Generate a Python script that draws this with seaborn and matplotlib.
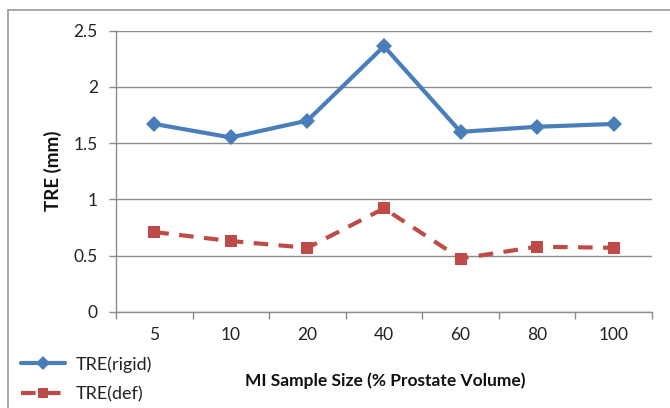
import matplotlib
matplotlib.use("Agg")
import matplotlib.pyplot as plt
import seaborn as sns
import pandas as pd
import numpy as np

categories = ["5", "10", "20", "40", "60", "80", "100"]
tre_rigid = [1.67, 1.55, 1.70, 2.36, 1.60, 1.645, 1.67]
tre_def = [0.71, 0.63, 0.57, 0.92, 0.475, 0.58, 0.57]
y_ticks = [0, 0.5, 1, 1.5, 2, 2.5]

sns.set_theme(style="white")
plt.rcParams['font.family'] = ['Lato', 'DejaVu Sans']

W, H = 670, 408
fig = plt.figure(figsize=(W / 100, H / 100), dpi=100)
ax = fig.add_axes([116 / W, 1 - 312 / H, (652 - 116) / W, (312 - 30.5) / H])

df = pd.DataFrame({"cat": categories * 2,
                   "val": tre_rigid + tre_def,
                   "series": ["TRE(rigid)"] * 7 + ["TRE(def)"] * 7})

blue = "#4A7EBB"
red = "#BE4B48"
sns.lineplot(data=df[df.series == "TRE(rigid)"], x="cat", y="val", ax=ax,
             color=blue, lw=3.0, marker="D", markersize=8, markeredgewidth=0,
             label="TRE(rigid)", sort=False)
sns.lineplot(data=df[df.series == "TRE(def)"], x="cat", y="val", ax=ax,
             color=red, lw=3.0, marker="s", markersize=8, markeredgewidth=0,
             linestyle=(0, (3.5, 2.5)), label="TRE(def)", sort=False)

ax.set_xlim(-0.5, 6.5)
ax.set_ylim(0, 2.5)
ax.set_yticks(y_ticks)
ax.set_yticklabels(["0", "0.5", "1", "1.5", "2", "2.5"])
ax.set_xticks(range(len(categories)))
ax.set_xticklabels(categories)
ax.set_xticks(np.arange(-0.5, 7, 1), minor=True)

gray = "#8C8C8C"
ax.grid(axis="y", color=gray, lw=1.0)
ax.grid(axis="x", visible=False)
for s in ["top", "right"]:
    ax.spines[s].set_visible(False)
for s in ["left", "bottom"]:
    ax.spines[s].set_color(gray)
    ax.spines[s].set_linewidth(1.0)

fs = 12.5
ax.tick_params(axis="x", which="major", length=0, pad=11, labelsize=fs, colors="#222222")
ax.tick_params(axis="x", which="minor", length=5, width=1, color=gray, bottom=True, direction="out")
ax.tick_params(axis="y", which="major", length=5, width=1, color=gray, left=True, direction="out",
               pad=8, labelsize=fs, labelcolor="#222222")

ax.set_xlabel("")
ax.set_ylabel("")
fig.text(385 / W, 1 - 381 / H, "MI Sample Size (% Prostate Volume)", ha="center", va="center",
         fontsize=12.5, fontweight="bold", color="#111111")
fig.text(53 / W, 1 - 171 / H, "TRE (mm)", ha="center", va="center", rotation=90,
         fontsize=13.5, fontweight="bold", color="#111111")

ax.get_legend().remove()
handles, labels = ax.get_legend_handles_labels()
leg = fig.legend(handles, labels, loc="upper left", bbox_to_anchor=(14 / W, 1 - 349 / H),
                 frameon=False, fontsize=13, handlelength=2.4, handletextpad=0.6,
                 labelspacing=0.75, borderaxespad=0, markerscale=0.85)
for t in leg.get_texts():
    t.set_color("#222222")

# chart-area border (left and top visible)
fig.add_artist(plt.Line2D([8 / W, 8 / W], [0, 1 - 10 / H], transform=fig.transFigure,
                          color="#9A9A9A", lw=1.2))
fig.add_artist(plt.Line2D([8 / W, 1], [1 - 10 / H, 1 - 10 / H], transform=fig.transFigure,
                          color="#9A9A9A", lw=1.2))

fig.savefig("out.png", dpi=100)
